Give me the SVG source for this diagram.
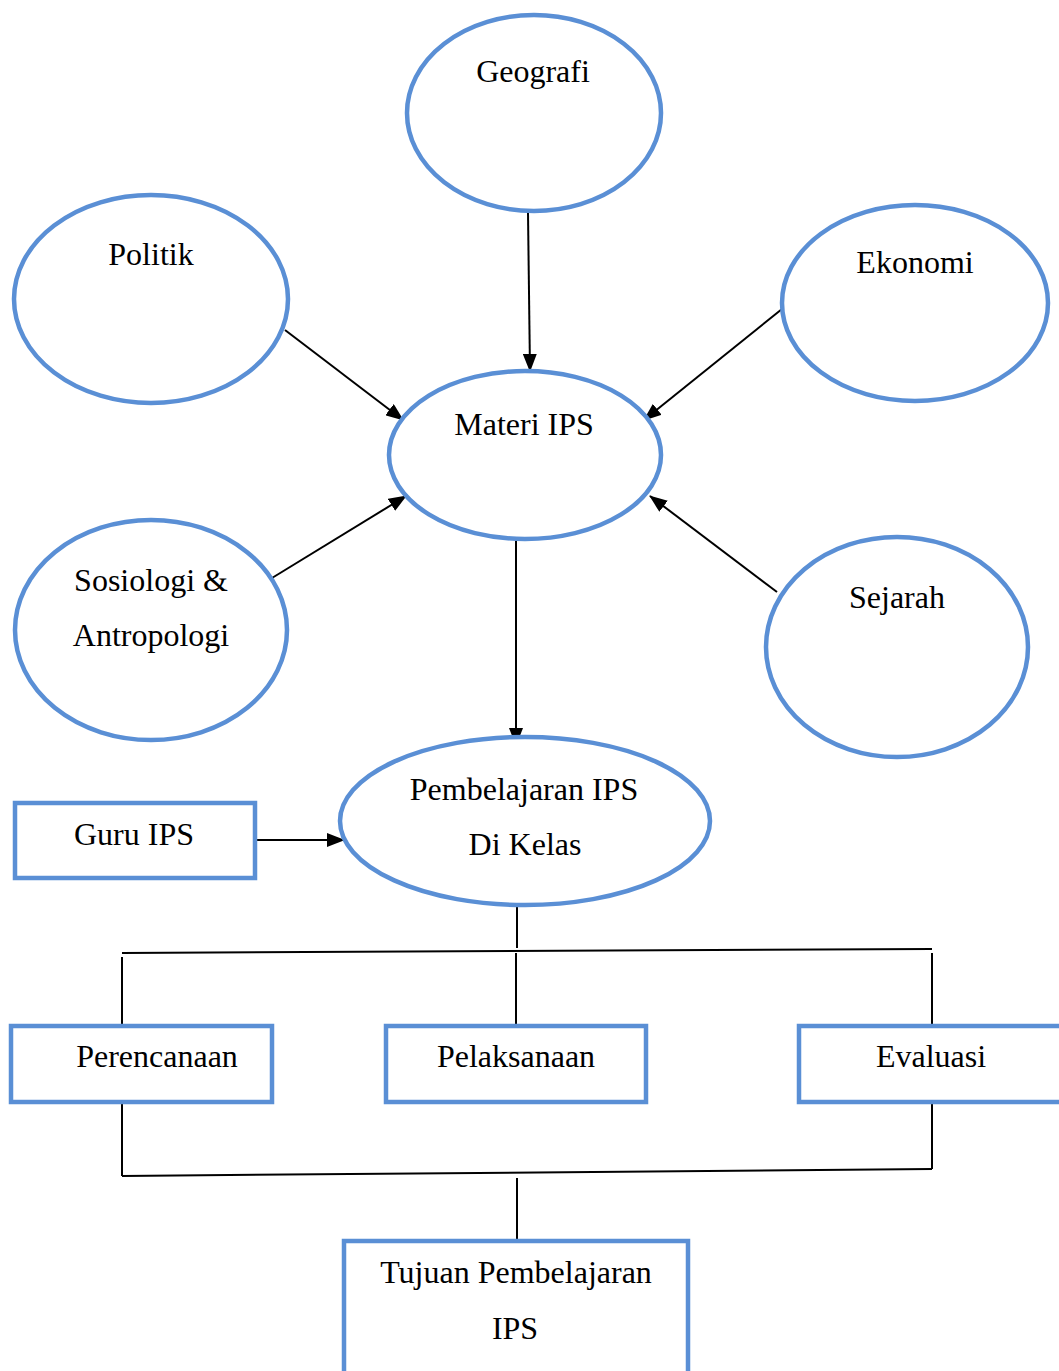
<svg xmlns="http://www.w3.org/2000/svg" width="1059" height="1371" viewBox="0 0 1059 1371">
  <style>
    .node { fill: #ffffff; stroke: #5a8fd5; stroke-width: 4.5; }
    .label { font-family: "Liberation Serif", "Times New Roman", serif; font-size: 32px; fill: #000000; text-anchor: middle; }
    .link { stroke: #000000; stroke-width: 2; fill: none; }
    .arrow { marker-end: url(#head); }
  </style>
  <defs>
    <marker id="head" viewBox="0 0 18 14" refX="17" refY="7" markerWidth="18" markerHeight="14" markerUnits="userSpaceOnUse" orient="auto">
      <path d="M0,0 L18,7 L0,14 Z" fill="#000000"/>
    </marker>
  </defs>

  <rect x="0" y="0" width="1059" height="1371" fill="#ffffff"/>

  <!-- connectors -->
  <g id="connectors">
    <line class="link arrow" x1="528" y1="213" x2="530" y2="371"/>
    <line class="link arrow" x1="285" y1="330" x2="403" y2="420"/>
    <line class="link arrow" x1="782" y1="309" x2="644" y2="420"/>
    <line class="link arrow" x1="272" y1="578" x2="406" y2="496"/>
    <line class="link arrow" x1="777" y1="592" x2="650" y2="496"/>
    <line class="link arrow" x1="516" y1="541" x2="516" y2="745"/>
    <line class="link arrow" x1="256" y1="840" x2="344" y2="840"/>

    <line class="link" x1="517" y1="905" x2="517" y2="948"/>
    <line class="link" x1="122" y1="953" x2="932" y2="949"/>
    <line class="link" x1="122" y1="957" x2="122" y2="1026"/>
    <line class="link" x1="516" y1="953" x2="516" y2="1026"/>
    <line class="link" x1="932" y1="953" x2="932" y2="1026"/>

    <line class="link" x1="122" y1="1102" x2="122" y2="1176"/>
    <line class="link" x1="932" y1="1102" x2="932" y2="1169"/>
    <line class="link" x1="122" y1="1176" x2="932" y2="1169"/>
    <line class="link" x1="517" y1="1178" x2="517" y2="1241"/>
  </g>

  <g id="geografi">
    <ellipse class="node" cx="534" cy="113" rx="127" ry="98"/>
    <text class="label" x="533" y="82">Geografi</text>
  </g>
  <g id="politik">
    <ellipse class="node" cx="151" cy="299" rx="137" ry="104"/>
    <text class="label" x="151" y="265">Politik</text>
  </g>
  <g id="ekonomi">
    <ellipse class="node" cx="915" cy="303" rx="133" ry="98"/>
    <text class="label" x="915" y="273">Ekonomi</text>
  </g>
  <g id="materi-ips">
    <ellipse class="node" cx="525" cy="455" rx="136" ry="84"/>
    <text class="label" x="524" y="435">Materi IPS</text>
  </g>
  <g id="sosiologi">
    <ellipse class="node" cx="151" cy="630" rx="136" ry="110"/>
    <text class="label" x="151" y="591">Sosiologi &amp;</text>
    <text class="label" x="151" y="646">Antropologi</text>
  </g>
  <g id="sejarah">
    <ellipse class="node" cx="897" cy="647" rx="131" ry="110"/>
    <text class="label" x="897" y="608">Sejarah</text>
  </g>
  <g id="pembelajaran">
    <ellipse class="node" cx="525" cy="821" rx="185" ry="84"/>
    <text class="label" x="524" y="800">Pembelajaran IPS</text>
    <text class="label" x="525" y="855">Di Kelas</text>
  </g>
  <g id="guru-ips">
    <rect class="node" x="15" y="803" width="240" height="75"/>
    <text class="label" x="134" y="845">Guru IPS</text>
  </g>
  <g id="perencanaan">
    <rect class="node" x="11" y="1026" width="261" height="76"/>
    <text class="label" x="157" y="1067">Perencanaan</text>
  </g>
  <g id="pelaksanaan">
    <rect class="node" x="386" y="1026" width="260" height="76"/>
    <text class="label" x="516" y="1067">Pelaksanaan</text>
  </g>
  <g id="evaluasi">
    <rect class="node" x="799" y="1026" width="270" height="76"/>
    <text class="label" x="931" y="1067">Evaluasi</text>
  </g>
  <g id="tujuan">
    <rect class="node" x="344" y="1241" width="344" height="140"/>
    <text class="label" x="516" y="1283">Tujuan Pembelajaran</text>
    <text class="label" x="515" y="1339">IPS</text>
  </g>
</svg>
